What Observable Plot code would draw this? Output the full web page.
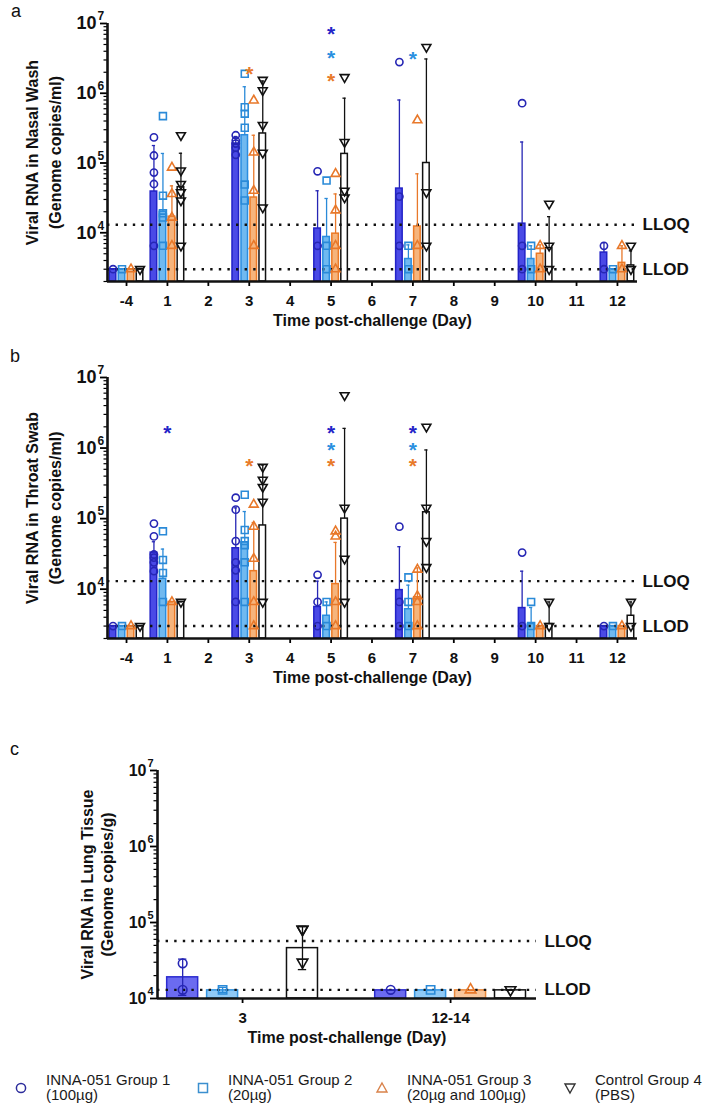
<!DOCTYPE html>
<html><head><meta charset="utf-8">
<script src="https://cdn.jsdelivr.net/npm/d3@7"></script>
<script src="https://cdn.jsdelivr.net/npm/@observablehq/plot@0.6"></script>
<style>
body{margin:0;background:#fff;font-family:Arial,"Liberation Sans",Helvetica,sans-serif;}
#root{position:relative;width:714px;height:1113px;overflow:hidden;}
.panel{position:absolute;left:0;}
.letter{position:absolute;font-size:18px;color:#111;line-height:18px;}
.leg{position:absolute;font-size:15px;line-height:15px;color:#1a1a1a;white-space:nowrap;}
.legsym{position:absolute;}
</style></head><body><div id="root"></div>
<script>
// ---------------- DATA ----------------
const groups = ["INNA-051 Group 1", "INNA-051 Group 2", "INNA-051 Group 3", "Control Group 4"];
const groupDoses = ["(100µg)", "(20µg)", "(20µg and 100µg)", "(PBS)"];
const xTickLabels = ["-4","1","2","3","4","5","6","7","8","9","10","11","12"];
const swabDays = ["-4","1","3","5","7","10","12"];
const lungDays = ["3","12-14"];
const limitLabels = ["LLOQ","LLOD"];
const swabLimits = [13000, 3000];
const lungLimits = [57000, 13000];
const xTitle = "Time post-challenge (Day)";

// Panel a: nasal wash (per group, per sampled day)
const nasalMean = [
  [3000, 39000, 190000, 11500, 43000, 13500, 5200],
  [3000, 20000, 250000, 8700, 4200, 4200, 3000],
  [3000, 17000, 32000, 9700, 12300, 5000, 3700],
  [3000, 45000, 265000, 135000, 100000, 6000, 3400]
];
const nasalErrTop = [
  [3000, 178000, 240000, 40000, 800000, 200000, 7200],
  [3000, 137000, 1240000, 31000, 6700, 6500, 3000],
  [3000, 47000, 250000, 36000, 70000, 6700, 6500],
  [3000, 138000, 1500000, 850000, 3100000, 17000, 5500]
];
const nasalPoints = [
  [[3000],[233000,128000,73000,50000,6500],[250000,210000,190000,166000,131000],[76000,6500],[2800000,33000,6500],[720000,6500,3000],[6500,3000]],
  [[3000],[470000,34000,19000,16500,6500],[1900000,630000,510000,320000,49000,29000],[56000,6500,3000],[6500,3000],[6500,3000],[3000]],
  [[3000],[86000,36000,16500,6500],[790000,142000,40000,6500],[70000,21000,6500,3000],[410000,6500],[6500,3000],[6500,3000]],
  [[3000],[250000,78000,50000,38000,29000,6500],[1550000,1100000,350000,140000,23000],[1700000,200000,40000,32000],[4600000,38000,6500],[26000,6500,3000],[6500,3000]]
];
const nasalStars = [
  {day:"3", group:2, value:2300000},
  {day:"5", group:0, value:8600000},
  {day:"5", group:1, value:3900000},
  {day:"5", group:2, value:1800000},
  {day:"7", group:1, value:3800000}
];

// Panel b: throat swab
const throatMean = [
  [3000, 33000, 38000, 5600, 9700, 5400, 3000],
  [3000, 14000, 46000, 4200, 5200, 3200, 3000],
  [3000, 6600, 18000, 11800, 7700, 3000, 3000],
  [3000, 6600, 80000, 100000, 123000, 3200, 4200]
];
const throatErrTop = [
  [3000, 47000, 142000, 13000, 40000, 18000, 3000],
  [3000, 37000, 126000, 6600, 11400, 5500, 3000],
  [3000, 6600, 88000, 46000, 20000, 3000, 3000],
  [3000, 6600, 575000, 1900000, 940000, 6600, 6600]
];
const throatPoints = [
  [[3000],[85000,56000,31000,28000,24000,18000],[198000,134000,48000,24000,18500,6600],[16000,6600,3000],[77000,6600,3000],[33000,3000],[3000]],
  [[3000],[66000,26000,17000,6600],[218000,69000,48000,42000,24000,6600],[6600,3000],[14700,6600,3000],[6600,3000],[3000]],
  [[3000],[6600],[158000,77000,27000,6600,3000],[66000,56000,6600,3000],[19000,8000,6600,3000],[3000],[3000]],
  [[3000],[6600],[540000,355000,280000,173000,6600],[5600000,142000,27000,6600],[2000000,142000,48000,20500],[6600,3000],[6600,3000]]
];
const throatStars = [
  {day:"1", group:0, value:2000000},
  {day:"3", group:2, value:680000},
  {day:"5", group:0, value:2000000},
  {day:"5", group:1, value:1150000},
  {day:"5", group:2, value:680000},
  {day:"7", group:0, value:2000000},
  {day:"7", group:1, value:1150000},
  {day:"7", group:2, value:680000}
];

// Panel c: lung tissue
const lungMean = [[19000, 12800],[12800, 12800],[null, 12800],[46000, 12800]];
const lungErrTop = [[33000, 12800],[14000, 12800],[null, 12800],[89000, 12800]];
const lungErrBottom = [[11000, 12800],[12000, 12800],[null, 12800],[24000, 12800]];
const lungPoints = [[[29000,13000],[13000]],[[13000],[13000]],[[],[13000]],[[81000,81000,30000],[13000]]];

// ---------------- STYLE ----------------
const FONT = 'Arial, "Liberation Sans", Helvetica, sans-serif';
const markerColors = ["#2626b4", "#2a8ad8", "#e8782a", "#111111"];
const barFillsAB = ["#4a4ae6", "#70b9f0", "#f6b47c", "#ffffff"];
const barStrokesAB = ["#2222c8", "#2a8de0", "#ec7a26", "#111111"];
const barFillsC = ["#6b6bf0", "#8fc9f6", "#f9c69c", "#ffffff"];
const barStrokesC = ["#2c2cd0", "#3494e0", "#ea8a3c", "#111111"];
const starColors = ["#2424c8", "#2a90e0", "#e87a2a"];

const invTriangle = {
  draw(ctx, size) {
    const s3 = Math.sqrt(3);
    const y = -Math.sqrt(size / (s3 * 3));
    ctx.moveTo(0, -y * 2);
    ctx.lineTo(s3 * y, y);
    ctx.lineTo(-s3 * y, y);
    ctx.closePath();
  }
};
const symbols = ["circle", "square", "triangle", invTriangle];
const symbolR = [3.6, 3.9, 3.3, 3.3];

function makePanel(cfg) {
  const {cats, sampled, mean, errTop, errBottom, points, stars, yMin, yMax, limits,
    offsets, halfW, capW, xDomain, marginLeft, marginRight, height, marginTop, marginBottom,
    yTitle1, yTitle2, titleDx1, titleDx2, fills, strokes, rScale, tickSize10, expSize, limitDx} = cfg;
  const bars = [], errs = [], dots = [];
  groups.forEach((g, gi) => {
    sampled.forEach((day, di) => {
      const xi = cats.indexOf(day);
      const x = xi + offsets[gi];
      const m = mean[gi][di];
      if (m == null) return;
      bars.push({g: gi, x, v: m});
      errs.push({g: gi, x, lo: errBottom ? errBottom[gi][di] : m, hi: errTop[gi][di]});
      points[gi][di].forEach(v => dots.push({g: gi, x, v}));
    });
  });
  const majors = [];
  for (let k = Math.ceil(Math.log10(yMin) - 1e-9); k <= Math.log10(yMax) + 1e-9; k++) majors.push(10 ** k);
  const minors = [];
  for (let k = Math.floor(Math.log10(yMin)); k < Math.log10(yMax); k++)
    for (let m = 2; m <= 9; m++) { const v = m * 10 ** k; if (v >= yMin && v <= yMax) minors.push(v); }

  const marks = [];
  for (let gi = 0; gi < 4; gi++) {
    marks.push(Plot.rect(bars.filter(d => d.g === gi), {
      x1: d => d.x - halfW, x2: d => d.x + halfW, y1: yMin, y2: "v",
      fill: fills[gi], stroke: strokes[gi], strokeWidth: 1.5
    }));
  }
  marks.push(Plot.ruleY(limits, {y: d => d, stroke: "#111", strokeWidth: 2.4, strokeDasharray: "2.4,6.2"}));
  for (let gi = 0; gi < 4; gi++) {
    const e = errs.filter(d => d.g === gi);
    marks.push(Plot.ruleX(e, {x: "x", y1: "lo", y2: "hi", stroke: markerColors[gi], strokeWidth: 1.3}));
    marks.push(Plot.ruleY(e, {y: "hi", x1: d => d.x - capW, x2: d => d.x + capW, stroke: markerColors[gi], strokeWidth: 1.3}));
    if (errBottom) marks.push(Plot.ruleY(e, {y: "lo", x1: d => d.x - capW, x2: d => d.x + capW, stroke: markerColors[gi], strokeWidth: 1.3}));
  }
  for (let gi = 0; gi < 4; gi++) {
    marks.push(Plot.dot(dots.filter(d => d.g === gi), {
      x: "x", y: "v", symbol: symbols[gi], r: symbolR[gi] * rScale,
      fill: "none", stroke: markerColors[gi], strokeWidth: 1.6
    }));
  }
  if (stars) for (let gi = 0; gi < 3; gi++) {
    marks.push(Plot.text(stars.filter(d => d.group === gi), {
      x: d => cats.indexOf(d.day), y: "value", text: () => "*",
      fill: starColors[gi], fontSize: 21, fontWeight: "bold", dy: 6
    }));
  }
  marks.push(Plot.axisY({ticks: minors, tickSize: 3.5, tickFormat: () => "", strokeWidth: 1.2, label: null}));
  marks.push(Plot.axisY({ticks: majors, tickSize: 7, tickFormat: () => "", strokeWidth: 1.8, label: null}));
  marks.push(Plot.axisX({ticks: d3.range(cats.length), tickSize: 5, tickFormat: () => "", strokeWidth: 1.8, label: null}));
  marks.push(Plot.ruleX([xDomain[0]], {stroke: "#111", strokeWidth: 2.6}));
  marks.push(Plot.ruleY([yMin], {stroke: "#111", strokeWidth: 2.6}));
  marks.push(Plot.text(majors, {y: d => d, frameAnchor: "left", text: () => "10", textAnchor: "end", lineAnchor: "middle",
    dx: -11, fontSize: tickSize10, fontWeight: "bold", fill: "#111"}));
  marks.push(Plot.text(majors, {y: d => d, frameAnchor: "left", text: d => String(Math.round(Math.log10(d))),
    textAnchor: "start", lineAnchor: "middle", dx: -10, dy: -7, fontSize: expSize, fontWeight: "bold", fill: "#111"}));
  marks.push(Plot.text(cats.map((l, i) => ({l, i})), {x: "i", text: "l", frameAnchor: "bottom", lineAnchor: "middle",
    textAnchor: "middle", dy: 20, fontSize: 15, fontWeight: "bold", fill: "#111"}));
  marks.push(Plot.text([xTitle], {text: d => d, frameAnchor: "bottom", lineAnchor: "middle", textAnchor: "middle",
    dy: 39, fontSize: 16, fontWeight: "bold", fill: "#111"}));
  marks.push(Plot.text([yTitle1], {text: d => d, frameAnchor: "left", textAnchor: "middle", lineAnchor: "middle",
    rotate: -90, dx: titleDx1, fontSize: 16, fontWeight: "bold", fill: "#111"}));
  marks.push(Plot.text([yTitle2], {text: d => d, frameAnchor: "left", textAnchor: "middle", lineAnchor: "middle",
    rotate: -90, dx: titleDx2, fontSize: 16, fontWeight: "bold", fill: "#111"}));
  marks.push(Plot.text(limits.map((v, i) => ({v, t: limitLabels[i]})), {y: "v", text: "t", frameAnchor: "right",
    textAnchor: "start", lineAnchor: "middle", dx: limitDx, fontSize: 17, fontWeight: "bold", fill: "#111"}));

  return Plot.plot({
    width: 714, height, marginLeft, marginRight, marginTop, marginBottom,
    style: {fontFamily: FONT, background: "transparent", overflow: "visible"},
    x: {type: "linear", domain: xDomain, axis: null},
    y: {type: "log", domain: [yMin, yMax], axis: null},
    marks
  });
}

const root = document.getElementById("root");
function place(node, top) {
  const d = document.createElement("div");
  d.className = "panel"; d.style.top = top + "px";
  d.appendChild(node); root.appendChild(d);
}
function letter(t, x, y) {
  const d = document.createElement("div");
  d.className = "letter"; d.textContent = t; d.style.left = x + "px"; d.style.top = y + "px";
  root.appendChild(d);
}

const abCommon = {
  cats: xTickLabels, sampled: swabDays, yMin: 2000, yMax: 1e7, limits: swabLimits,
  offsets: [-0.33, -0.11, 0.11, 0.33], halfW: 0.08, capW: 0.04, xDomain: [-0.465, 12.49],
  marginLeft: 107, marginRight: 77, marginTop: 23, marginBottom: 52,
  titleDx1: -75, titleDx2: -52, fills: barFillsAB, strokes: barStrokesAB, rScale: 1,
  tickSize10: 18, expSize: 12, limitDx: 5
};

place(makePanel({...abCommon, mean: nasalMean, errTop: nasalErrTop, points: nasalPoints, stars: nasalStars,
  height: 333, yTitle1: "Viral RNA in Nasal Wash", yTitle2: "(Genome copies/ml)"}), 0);
place(makePanel({...abCommon, mean: throatMean, errTop: throatErrTop, points: throatPoints, stars: throatStars,
  height: 336, yTitle1: "Viral RNA in Throat Swab", yTitle2: "(Genome copies/ml)"}), 354);
place(makePanel({
  cats: lungDays, sampled: lungDays, mean: lungMean, errTop: lungErrTop, errBottom: lungErrBottom,
  points: lungPoints, stars: null, yMin: 1e4, yMax: 1e7, limits: lungLimits,
  offsets: [-0.288, -0.096, 0.096, 0.288], halfW: 0.0745, capW: 0.02, xDomain: [-0.409, 1.413],
  marginLeft: 157, marginRight: 178, marginTop: 23, marginBottom: 52, height: 303,
  yTitle1: "Viral RNA in Lung Tissue", yTitle2: "(Genome copies/g)", titleDx1: -70, titleDx2: -50,
  fills: barFillsC, strokes: barStrokesC, rScale: 1.2, tickSize10: 16, expSize: 11, limitDx: 8
}), 747);

letter("a", 11, 2);
letter("b", 10, 347);
letter("c", 10, 740);

const legendSymX = [21, 203, 382, 570];
const legendColors = ["#2d2d9c", "#3b8fcf", "#d9824a", "#333333"];
const legendPaths = [
  '<circle cx="7" cy="7" r="4.6" fill="none" stroke-width="1.5"/>',
  '<rect x="2.5" y="2.5" width="9" height="9" fill="none" stroke-width="1.5"/>',
  '<path d="M7,2 L12,11 L2,11 Z" fill="none" stroke-width="1.4"/>',
  '<path d="M7,12 L12,3 L2,3 Z" fill="none" stroke-width="1.4"/>'
];
groups.forEach((g, i) => {
  const s = document.createElement("div");
  s.className = "legsym";
  s.style.left = (legendSymX[i] - 7) + "px"; s.style.top = (1088 - 7) + "px";
  s.innerHTML = `<svg width="14" height="14" stroke="${legendColors[i]}">${legendPaths[i]}</svg>`;
  root.appendChild(s);
  const t = document.createElement("div");
  t.className = "leg";
  t.style.left = (legendSymX[i] + 25) + "px"; t.style.top = "1072px";
  t.innerHTML = g + "<br>" + groupDoses[i];
  root.appendChild(t);
});
</script></body></html>
